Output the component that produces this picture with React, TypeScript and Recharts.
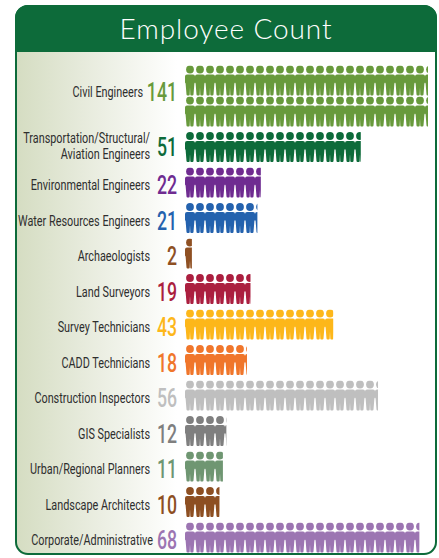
import { BarChart, Bar, XAxis, YAxis } from "recharts";

const categories = [
  "",
  "Civil Engineers",
  "Transportation/Structural/|Aviation Engineers",
  "Environmental Engineers",
  "Water Resources Engineers",
  "Archaeologists",
  "Land Surveyors",
  "Survey Technicians",
  "CADD Technicians",
  "Construction Inspectors",
  "GIS Specialists",
  "Urban/Regional Planners",
  "Landscape Architects",
  "Corporate/Administrative",
];
const counts = [0, 141, 51, 22, 21, 2, 19, 43, 18, 56, 12, 11, 10, 68];
const colors = [
  "#fff", "#689a3c", "#0d6b3a", "#6f2c91", "#2462ae", "#8f5023", "#ab1f3f",
  "#fdb71a", "#f0762b", "#bfbfbf", "#7f7f7f", "#6f9672", "#8d4f22", "#9c75b2",
];

// one row of figures holds this many employees, Civil Engineers wraps to two rows
const rowCapacity = 70.5;
const data = categories.map((name, i) => ({
  name,
  count: counts[i],
  color: colors[i],
  shown: Math.min(counts[i], rowCapacity),
}));

const FIG = 10;
const FONT = "Roboto, sans-serif";

function PersonRow({ x, y, width, color, id }: any) {
  const n = Math.ceil(width / FIG);
  return (
    <g clipPath={`url(#${id})`}>
      <clipPath id={id}>
        <rect x={x} y={y} width={width} height={31} />
      </clipPath>
      {Array.from({ length: n }, (_, i) => {
        const cx = x + i * FIG + 5;
        return (
          <g key={i} fill={color}>
            <circle cx={cx} cy={y + 4} r={3.9} />
            <path
              d={`M${cx - 5} ${y + 11} q0 -2 2 -2 h6 q2 0 2 2 v6 l-0.6 1 l-0.9 11 q-0.1 1 -1 1 h-1.4 q-0.7 0 -0.8 -1 l-0.3 -7 l-0.3 7 q-0.1 1 -0.8 1 h-1.4 q-0.9 0 -1 -1 l-0.9 -11 l-0.6 -1 z`}
            />
          </g>
        );
      })}
    </g>
  );
}

function PeopleShape(props: any) {
  const { x, y, width, height, payload, index } = props;
  if (!payload.count) return null;
  const top = y + height / 2 - 15;
  if (payload.count > rowCapacity) {
    return (
      <g>
        <PersonRow x={x} y={top - 31} width={width} color={payload.color} id={`r${index}a`} />
        <PersonRow x={x} y={top} width={width} color={payload.color} id={`r${index}b`} />
      </g>
    );
  }
  return <PersonRow x={x} y={top} width={width} color={payload.color} id={`r${index}`} />;
}

function Squeezed({ x, y, size, scale, fill, children }: any) {
  return (
    <text
      transform={`translate(${x} ${y}) scale(${scale} 1)`}
      textAnchor="end"
      fontFamily={FONT}
      fontSize={size}
      fill={fill}
    >
      {children}
    </text>
  );
}

function RowTick(props: any) {
  const { y, payload, index } = props;
  const row = data[index];
  if (!payload.value) return null;
  const lines = String(payload.value).split("|");
  // labels sit a little under the row centre, except the two-line and two-row ones
  const cy = row.count > rowCapacity ? y - 19 : lines.length > 1 ? y : y + 3;
  const labelRight = row.count >= 100 ? 143 : row.name.startsWith("Corporate") ? 153 : 150;
  return (
    <g>
      {lines.map((line, i) => (
        <Squeezed
          key={i}
          x={labelRight}
          y={cy + 5 + (i - (lines.length - 1) / 2) * 16 - (lines.length > 1 ? 1 : 0)}
          size={15.5}
          scale={0.7}
          fill="#2e2e2e"
        >
          {line}
        </Squeezed>
      ))}
      <Squeezed x={177} y={cy + 9} size={26} scale={0.68} fill={row.color}>
        <tspan fontWeight={500}>{row.count}</tspan>
      </Squeezed>
    </g>
  );
}

export default function App() {
  return (
    <div style={{ position: "absolute", left: 0, top: 0, width: 439, height: 558, overflow: "hidden", background: "#fff" }}>
      <div
        style={{
          position: "absolute",
          left: 15,
          top: 5,
          width: 422,
          height: 550,
          boxSizing: "border-box",
          border: "2px solid #0d6b3a",
          borderRadius: 13,
          background: "linear-gradient(90deg, #d5ddc2 0%, #e6eadb 40%, #ffffff 100%) 0 0 / 160px 100% no-repeat",
        }}
      />
      <div
        style={{
          position: "absolute",
          left: 15,
          top: 5,
          width: 422,
          height: 47,
          background: "#0d6b3a",
          borderRadius: "13px 13px 0 0",
          color: "#fff",
          textAlign: "center",
          fontFamily: "Lato, sans-serif",
          fontWeight: 300,
          fontSize: 28,
          lineHeight: "47px",
          letterSpacing: 0.9,
        }}
      >
        Employee Count
      </div>
      <div style={{ position: "absolute", left: 0, top: 0 }}>
        <BarChart
          width={439}
          height={558}
          data={data}
          layout="vertical"
          margin={{ top: 58, right: 11, bottom: 3, left: 184 }}
          barCategoryGap={0}
        >
          <XAxis type="number" domain={[0, rowCapacity]} hide />
          <YAxis
            type="category"
            dataKey="name"
            width={1}
            axisLine={false}
            tickLine={false}
            interval={0}
            tick={<RowTick />}
          />
          <Bar dataKey="shown" isAnimationActive={false} shape={<PeopleShape />} />
        </BarChart>
      </div>
    </div>
  );
}
